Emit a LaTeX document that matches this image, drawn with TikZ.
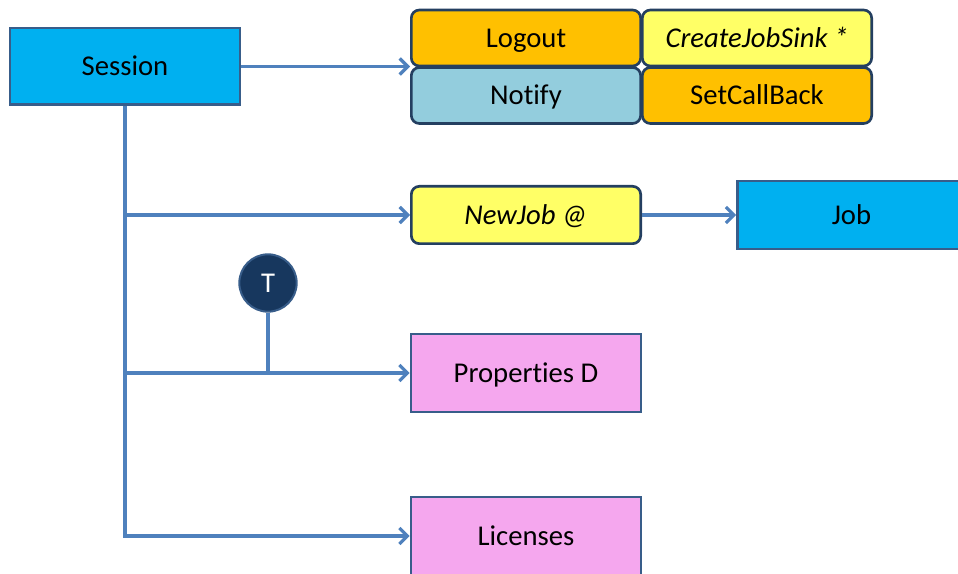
\documentclass[tikz,border=0pt]{standalone}
\usepackage{fontspec}
\setmainfont{Carlito}[Ligatures=NoCommon]
\usetikzlibrary{arrows.meta, positioning}
\definecolor{boxcyan}{HTML}{00B0F0}
\definecolor{boxorange}{HTML}{FFC000}
\definecolor{boxyellow}{HTML}{FFFF66}
\definecolor{boxblue}{HTML}{93CDDD}
\definecolor{boxpink}{HTML}{F5A7EE}
\definecolor{edgeblue}{HTML}{385D8A}
\definecolor{edgenavy}{HTML}{243F60}
\definecolor{linkblue}{HTML}{4F81BD}
\definecolor{tnavy}{HTML}{17375E}

\begin{document}
\begin{tikzpicture}[x=0.75pt, y=-0.75pt, font=\fontsize{21.5}{25}\selectfont,
	plain/.style={rectangle, draw=edgeblue, line width=2pt, text height=13.8pt, text depth=0pt, minimum width=172.5pt, minimum height=57.5pt},
	call/.style={rectangle, rounded corners=6pt, draw=edgenavy, line width=2pt, text height=13.8pt, text depth=0pt, minimum width=172pt, minimum height=42pt},
	link/.style={draw=linkblue, line width=2.4pt, -{Straight Barb[length=6pt, width=12pt, line width=2.4pt]}}]
	\useasboundingbox (0,0) rectangle (958,574);
	\node (session) [plain, fill=boxcyan] at (125,66.5) {Session};
	\node (logout) [call, fill=boxorange] at (526,38) {Logout};
	\node (sink) [call, fill=boxyellow] at (757,38) {\itshape CreateJobSink *};
	\node (notify) [call, fill=boxblue] at (526,95.5) {Notify};
	\node (callback) [call, fill=boxorange] at (757,95.5) {SetCallBack};
	\node (newjob) [call, fill=boxyellow, minimum height=43pt] at (526,215) {\itshape NewJob @};
	\node (job) [plain, fill=boxcyan, minimum width=171pt, minimum height=51pt] at (851.5,215) {Job};
	\node (t) [circle, draw=edgeblue, line width=1.5pt, fill=tnavy, text=white, text height=13.8pt, text depth=0pt, minimum size=43pt, inner sep=0pt] at (268,283) {T};
	\node (props) [plain, fill=boxpink, minimum height=58.5pt] at (526,373) {Properties D};
	\node (lic) [plain, fill=boxpink, minimum height=58.5pt] at (526,536) {Licenses};
	% connectors
	\draw[link] (session.east) -- (session.east -| logout.west);
	\draw[link] (session.south) |- (lic.west);
	\draw[link] (session.south |- newjob.west) -- (newjob.west);
	\draw[link] (session.south |- props.west) -- (props.west);
	\draw[draw=linkblue, line width=2.4pt] (t.south) -- (t.south |- props.west);
	\draw[link] (newjob.east) -- (job.west);
\end{tikzpicture}
\end{document}
